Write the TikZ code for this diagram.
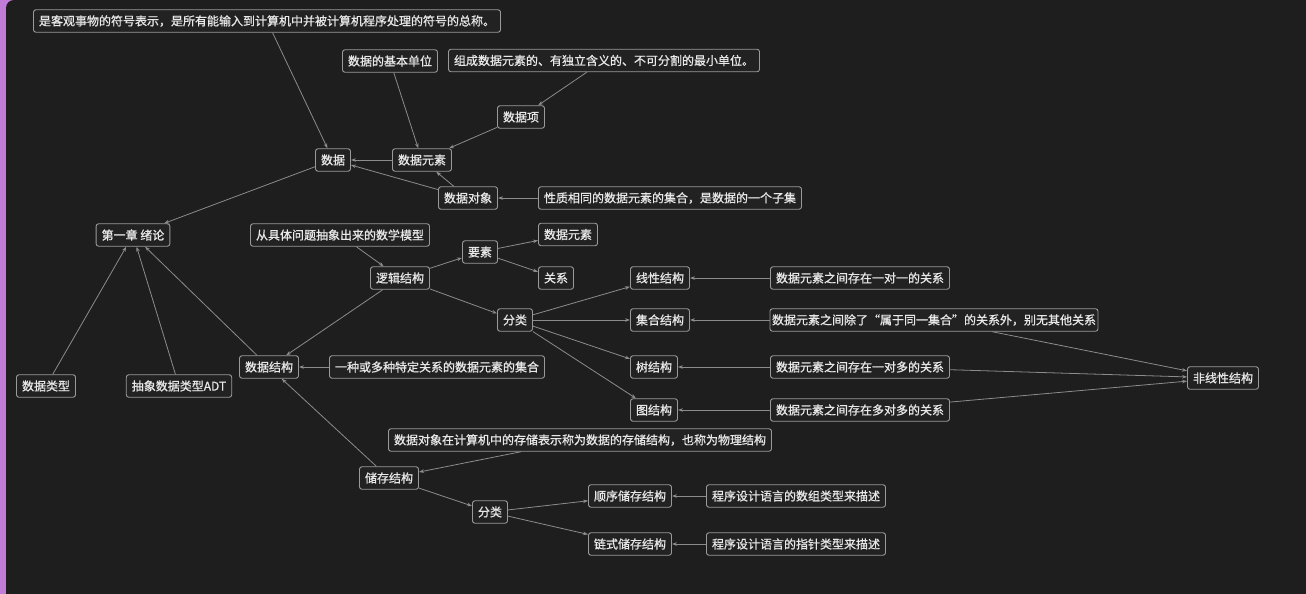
\documentclass[tikz,border=0pt]{standalone}
\usepackage{fontspec}
\newfontfamily\cjk[RawFeature={embolden=0.9}]{Noto Sans CJK SC}
\usetikzlibrary{arrows.meta}
\definecolor{bgdark}{HTML}{1E1E1E}
\definecolor{purplestrip}{HTML}{C07CD6}
\definecolor{boxgray}{HTML}{9A9A9A}
\definecolor{nodebg}{HTML}{222222}
\definecolor{textc}{HTML}{E8E8E8}
\definecolor{edgegray}{HTML}{8C8C8C}
\tikzset{
  box/.style={draw=boxgray, fill=nodebg, rounded corners=2.5pt, text=textc,
    inner xsep=5.5pt, inner ysep=0pt, minimum height=22.5pt, line width=0.9pt,
    font=\cjk\fontsize{12}{14}\selectfont},
  edge/.style={draw=edgegray, line width=0.8pt, -{Stealth[length=5pt,width=3.6pt]}}
}
\begin{document}
\begin{tikzpicture}[x=1pt,y=-1pt]
\useasboundingbox (0,0) rectangle (1306,594);
\fill[purplestrip] (0,0) rectangle (20,594);
\fill[bgdark, rounded corners=8pt] (6,0) rectangle (1330,620);

% nodes
\node[box] (def) at (267,21) {是客观事物的符号表示，是所有能输入到计算机中并被计算机程序处理的符号的总称。};
\node[box] (jbdw) at (390,61) {数据的基本单位};
\node[box] (zcsj) at (604,60.5) {组成数据元素的、有独立含义的、不可分割的最小单位。};
\node[box] (sjx) at (521,117) {数据项};
\node[box] (sj) at (333,160) {数据};
\node[box] (sjys) at (422,160) {数据元素};
\node[box] (sjdx) at (468,198) {数据对象};
\node[box] (xzxt) at (670,198) {性质相同的数据元素的集合，是数据的一个子集};
\node[box] (root) at (133,235) {第一章 绪论};
\node[box] (cx) at (340,235) {从具体问题抽象出来的数学模型};
\node[box] (ys) at (480,252) {要素};
\node[box] (ysys) at (568,234.5) {数据元素};
\node[box] (gx) at (556,278) {关系};
\node[box] (ljjg) at (400,278) {逻辑结构};
\node[box] (fl) at (515,320) {分类};
\node[box] (xxjg) at (660,278) {线性结构};
\node[box] (jhjg) at (660,320) {集合结构};
\node[box] (sjg) at (654,367) {树结构};
\node[box] (tjg) at (654,410) {图结构};
\node[box] (sjjg) at (269,367) {数据结构};
\node[box] (yzhdz) at (437,367) {一种或多种特定关系的数据元素的集合};
\node[box] (ydy) at (860,278) {数据元素之间存在一对一的关系};
\node[box, inner xsep=0pt, minimum width=328pt] (cl) at (934,320) {数据元素之间除了“属于同一集合”的关系外，别无其他关系};
\node[box] (ydd) at (860,367) {数据元素之间存在一对多的关系};
\node[box] (ddd) at (860,410) {数据元素之间存在多对多的关系};
\node[box] (fxx) at (1223,378) {非线性结构};
\node[box] (sjlx) at (46,386) {数据类型};
\node[box] (adt) at (179,386) {抽象数据类型ADT};
\node[box] (cczz) at (580,440) {数据对象在计算机中的存储表示称为数据的存储结构，也称为物理结构};
\node[box] (ccjg) at (389,478) {储存结构};
\node[box] (fl2) at (490,512) {分类};
\node[box] (sxcc) at (630,496) {顺序储存结构};
\node[box] (lscc) at (630,544) {链式储存结构};
\node[box] (szlx) at (796,496) {程序设计语言的数组类型来描述};
\node[box] (zzlx) at (796,544) {程序设计语言的指针类型来描述};

% edges
\draw[edge] (def) -- (sj);
\draw[edge] (jbdw) -- (sjys);
\draw[edge] (zcsj) -- (sjx);
\draw[edge] (sjx) -- (sjys);
\draw[edge] (sjys) -- (sj);
\draw[edge] (sjdx) -- (sj);
\draw[edge] (sjdx) -- (sjys);
\draw[edge] (xzxt) -- (sjdx);
\draw[edge] (sj) -- (root);
\draw[edge] (sjlx) -- (root);
\draw[edge] (adt) -- (root);
\draw[edge] (sjjg) -- (root);
\draw[edge] (cx) -- (ljjg);
\draw[edge] (ljjg) -- (ys);
\draw[edge] (ys) -- (ysys);
\draw[edge] (ys) -- (gx);
\draw[edge] (ljjg) -- (fl);
\draw[edge] (ljjg) -- (sjjg);
\draw[edge] (fl) -- (xxjg);
\draw[edge] (fl) -- (jhjg);
\draw[edge] (fl) -- (sjg);
\draw[edge] (fl) -- (tjg);
\draw[edge] (ydy) -- (xxjg);
\draw[edge] (cl) -- (jhjg);
\draw[edge] (ydd) -- (sjg);
\draw[edge] (ddd) -- (tjg);
\draw[edge] (cl) -- (fxx);
\draw[edge] (ydd) -- (fxx);
\draw[edge] (ddd) -- (fxx);
\draw[edge] (yzhdz) -- (sjjg);
\draw[edge] (ccjg) -- (sjjg);
\draw[edge] (cczz) -- (ccjg);
\draw[edge] (ccjg) -- (fl2);
\draw[edge] (fl2) -- (sxcc);
\draw[edge] (fl2) -- (lscc);
\draw[edge] (szlx) -- (sxcc);
\draw[edge] (zzlx) -- (lscc);
\end{tikzpicture}
\end{document}
